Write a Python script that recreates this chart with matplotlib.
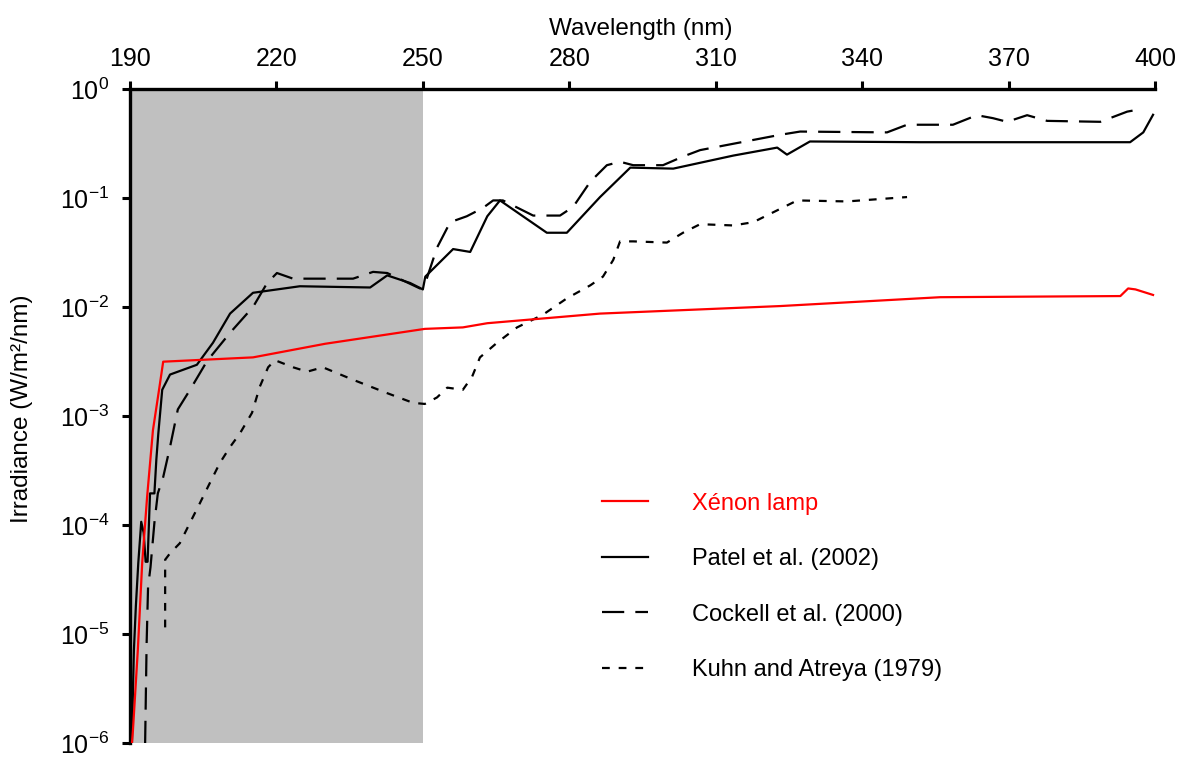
import matplotlib
matplotlib.use("Agg")
import matplotlib.pyplot as plt
from matplotlib.ticker import FuncFormatter, FixedLocator, NullLocator
import numpy as np

plt.rcParams['font.family'] = ['Liberation Sans', 'DejaVu Sans']
plt.rcParams['mathtext.fontset'] = 'custom'
plt.rcParams['mathtext.rm'] = 'Liberation Sans'
plt.rcParams['mathtext.it'] = 'Liberation Sans:italic'
plt.rcParams['mathtext.bf'] = 'Liberation Sans:bold'
plt.rcParams['axes.unicode_minus'] = False

# ---- data ----
xenon_wl = [190.4, 190.6, 191.6, 192.5, 193.5, 194.7, 196.0, 196.8, 215.2, 230.0, 250.4,
            258.2, 263.2, 286.3, 323.2, 356.0, 392.9, 394.5, 396.0, 399.6]
xenon_irr = [1e-6, 1.3e-6, 7.1e-6, 4.5e-5, 1.8e-4, 7.4e-4, 1.8e-3, 3.15e-3, 3.45e-3, 4.6e-3, 6.3e-3,
             6.5e-3, 7.1e-3, 8.7e-3, 1.02e-2, 1.23e-2, 1.26e-2, 1.48e-2, 1.45e-2, 1.29e-2]

patel_wl = [190.4, 190.6, 190.8, 191.2, 191.7, 192.3, 192.8, 193.2, 193.6, 194.1, 195.0, 195.4,
            195.8, 196.6, 198.2, 203.7, 207.0, 210.5, 215.2, 224.8, 239.2, 242.7, 247.4,
            250.0, 250.5, 256.2, 259.7, 263.2, 265.8, 275.4, 279.5, 286.3, 292.5, 301.3,
            313.6, 322.6, 324.6, 329.3, 351.9, 394.9, 397.6, 399.6]
patel_irr = [1e-6, 3e-6, 7.1e-6, 1.8e-5, 4.5e-5, 1.07e-4, 8.5e-5, 4.6e-5, 4.6e-5, 1.95e-4, 1.95e-4,
             4e-4, 6.9e-4, 1.74e-3, 2.4e-3, 2.95e-3, 4.7e-3, 8.7e-3, 1.35e-2, 1.55e-2, 1.51e-2,
             1.95e-2, 1.66e-2, 1.45e-2, 1.9e-2, 3.4e-2, 3.2e-2, 6.8e-2, 9.5e-2, 4.8e-2, 4.8e-2,
             1.02e-1, 1.9e-1, 1.86e-1, 2.45e-1, 2.9e-1, 2.5e-1, 3.3e-1, 3.25e-1, 3.25e-1,
             4.0e-1, 5.8e-1]

cockell_wl = [193.1, 193.4, 193.7, 194.2, 195.0, 195.7, 196.8, 198.2, 199.8, 202.3, 205.8, 210.5,
              215.2, 218.1, 220.1, 223.4, 235.7, 239.8, 242.7, 249.4, 250.5, 252.9, 255.6, 259.0,
              262.3, 264.4, 266.4, 272.6, 278.1, 280.8, 284.3, 287.7, 290.4, 293.1, 299.2,
              303.3, 306.8, 323.2, 327.3, 345.1, 349.2, 358.6, 363.5, 366.8, 369.7, 373.8,
              377.9, 388.8, 394.3, 397.6]
cockell_irr = [1e-6, 8e-6, 2.7e-5, 4.1e-5, 1.05e-4, 1.95e-4, 2.75e-4, 5.2e-4, 1.15e-3, 1.74e-3,
               3.2e-3, 5.8e-3, 1.0e-2, 1.66e-2, 2.05e-2, 1.82e-2, 1.82e-2, 2.1e-2, 2.05e-2, 1.48e-2,
               1.66e-2, 3.5e-2, 6.0e-2, 6.8e-2, 8.1e-2, 9.5e-2, 9.5e-2, 6.9e-2, 6.9e-2, 8.3e-2,
               1.41e-1, 2.0e-1, 2.15e-1, 2.0e-1, 2.0e-1, 2.4e-1, 2.75e-1, 3.8e-1, 4.07e-1, 4.0e-1,
               4.7e-1, 4.7e-1, 5.75e-1, 5.4e-1, 5.0e-1, 5.75e-1, 5.1e-1, 5.0e-1, 6.2e-1, 6.6e-1]

kuhn_wl = [197.2, 197.2, 198.2, 200.2, 202.3, 204.3, 206.4, 208.4, 210.5, 212.5, 215.0, 216.6,
           218.3, 219.7, 223.4, 226.3, 229.5, 235.7, 242.7, 248.0, 250.4, 252.9, 255.0, 258.2,
           260.1, 261.7, 265.2, 269.3, 274.6, 279.5, 284.3, 286.9, 289.0, 290.4, 293.1, 300.0,
           303.3, 306.8, 313.6, 317.7, 321.8, 326.7, 336.9, 349.2]
kuhn_irr = [1.15e-5, 4.8e-5, 5.5e-5, 6.8e-5, 1.05e-4, 1.58e-4, 2.45e-4, 3.7e-4, 5.2e-4, 6.9e-4,
            1.07e-3, 1.86e-3, 2.8e-3, 3.25e-3, 2.8e-3, 2.55e-3, 2.8e-3, 2.15e-3, 1.62e-3, 1.32e-3,
            1.29e-3, 1.48e-3, 1.82e-3, 1.74e-3, 2.3e-3, 3.45e-3, 4.7e-3, 6.5e-3, 8.5e-3, 1.2e-2,
            1.58e-2, 1.9e-2, 2.7e-2, 4.0e-2, 4.0e-2, 3.9e-2, 4.8e-2, 5.75e-2, 5.6e-2, 6.0e-2,
            7.4e-2, 9.5e-2, 9.3e-2, 1.02e-1]

x_ticks = [190, 220, 250, 280, 310, 340, 370, 400]
y_ticks = [1e-6, 1e-5, 1e-4, 1e-3, 1e-2, 1e-1, 1e0]
uv_band = (190, 250)

labels = ["Xénon lamp", "Patel et al. (2002)", "Cockell et al. (2000)", "Kuhn and Atreya (1979)"]

# ---- figure ----
fig = plt.figure(figsize=(11.92, 7.59), dpi=100)
ax = fig.add_axes([130/1192, 1 - 743/759, (1155-130)/1192, (743-89)/759])

ax.axvspan(*uv_band, color='#c0c0c0', lw=0, zorder=0)

lw = 1.6
l1, = ax.plot(xenon_wl, xenon_irr, color='#ff0000', lw=lw, label=labels[0], zorder=3)
l2, = ax.plot(patel_wl, patel_irr, color='black', lw=lw, label=labels[1], zorder=2)
l3, = ax.plot(cockell_wl, cockell_irr, color='black', lw=lw, dashes=(10, 5), label=labels[2], zorder=2)
l4, = ax.plot(kuhn_wl, kuhn_irr, color='black', lw=lw, dashes=(3.5, 4), label=labels[3], zorder=2)

ax.set_yscale('log')
ax.set_xlim(190, 400)
ax.set_ylim(1e-6, 1e0)
ax.xaxis.set_major_locator(FixedLocator(x_ticks))
ax.xaxis.set_minor_locator(NullLocator())
ax.yaxis.set_major_locator(FixedLocator(y_ticks))
ax.yaxis.set_minor_locator(NullLocator())
ax.yaxis.set_major_formatter(FuncFormatter(
    lambda v, p: r"$\mathdefault{10^{%d}}$" % int(round(np.log10(v)))))

ax.xaxis.tick_top()
ax.xaxis.set_label_position('top')
for s in ['right', 'bottom']:
    ax.spines[s].set_visible(False)
for s in ['left', 'top']:
    ax.spines[s].set_linewidth(2.4)
ax.tick_params(axis='x', direction='out', length=6, width=2.2, labelsize=18, pad=7)
ax.tick_params(axis='y', direction='out', length=6, width=2.2, labelsize=18, pad=9)

ax.set_xlabel("Wavelength (nm)", fontsize=17.5)
ax.set_ylabel("Irradiance (W/m²/nm)", fontsize=17.5)
ax.xaxis.set_label_coords(0.4985, 1.0826)
ax.yaxis.set_label_coords(-0.0946, 0.511)

leg = ax.legend(handles=[l1, l2, l3, l4], loc='upper left', bbox_to_anchor=(0.4605, 0.383),
                frameon=False, fontsize=17, handlelength=1.95, handletextpad=1.86,
                labelspacing=1.42, borderpad=0, borderaxespad=0)
leg.get_texts()[0].set_color('#ff0000')

fig.savefig("out.png", dpi=100, facecolor='white')
